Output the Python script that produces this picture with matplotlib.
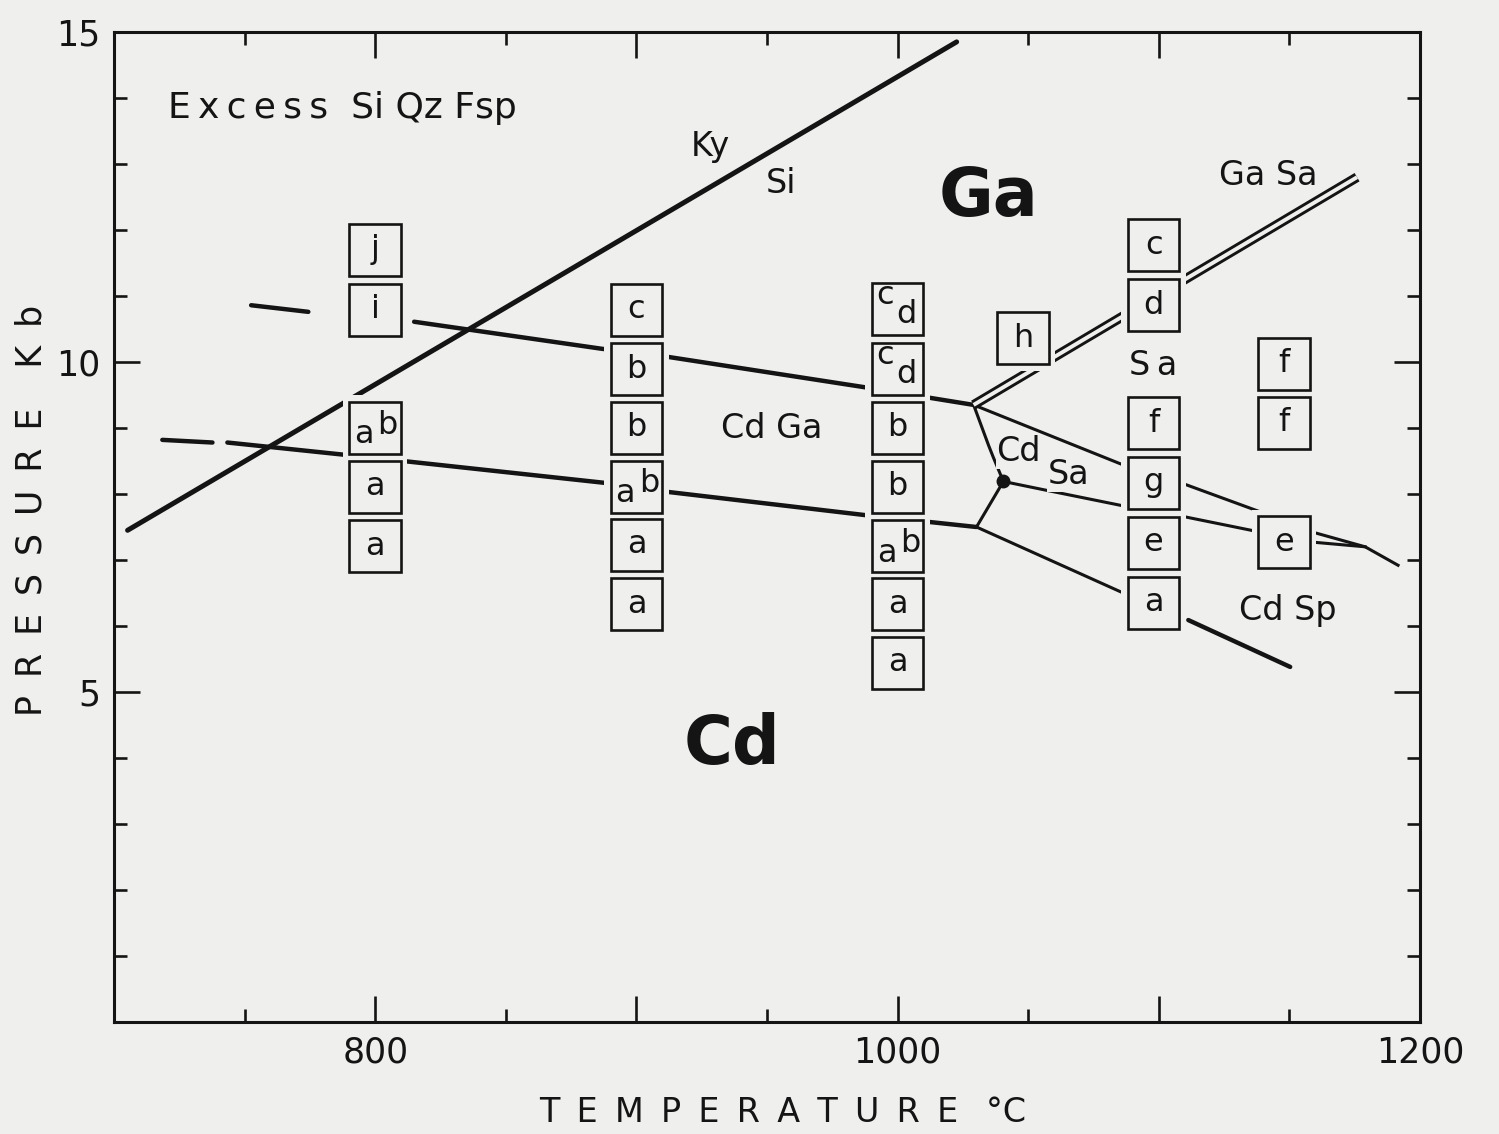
import numpy as np
import matplotlib.pyplot as plt
from matplotlib.patches import Rectangle
import matplotlib.patheffects as pe

nan = np.nan

# phase boundaries (temperature in C, pressure in kb)
ky_si_T = [705.2, 1022.6]
ky_si_P = [7.45, 14.85]

upper_T = [752.5, 774.4, nan, 814.9, 886.8, 911.7, 987.0, 1029.1]
upper_P = [10.86, 10.76, nan, 10.61, 10.20, 10.08, 9.62, 9.35]

lower_T = [718.5, 737.7, nan, 743.4, 786.9, 813.0, 887.6, 912.4, 987.6, 1030.2]
lower_P = [8.82, 8.78, nan, 8.78, 8.60, 8.49, 8.17, 8.03, 7.68, 7.50]

gasa_T = [1029.1, 1175.9]
gasa_P = [9.35, 12.80]

cdsa_top_T = [1029.1, 1034.8, 1036.7, 1040.5, 1030.2]
cdsa_top_P = [9.35, 8.74, 8.55, 8.19, 7.50]

lineA_T = [1029.1, 1086.4, 1110.5, 1138.8, 1159.1, 1179.0, 1191.6]
lineA_P = [9.35, 8.44, 8.14, 7.73, 7.42, 7.20, 6.92]

lineB_T = [1040.5, 1056.5, 1086.4, 1110.5, 1135.4, 1159.1, 1179.0]
lineB_P = [8.19, 8.06, 7.82, 7.65, 7.45, 7.27, 7.20]

lineC_T = [1030.2, 1086.4]
lineC_P = [7.50, 6.50]
lineC2_T = [1111.3, 1150.3]
lineC2_P = [6.09, 5.38]

point_T = [1040.5]
point_P = [8.19]

# experiment boxes
box_T = [800, 800, 800, 800, 800,
         900, 900, 900, 900, 900, 900,
         1000, 1000, 1000, 1000, 1000, 1000, 1000,
         1098, 1098, 1098, 1098, 1098, 1098,
         1148, 1148, 1148,
         1048]
box_P = [11.70, 10.79, 9.00, 8.11, 7.21,
         10.79, 9.89, 9.00, 8.11, 7.23, 6.33,
         10.80, 9.89, 9.00, 8.11, 7.21, 6.33, 5.44,
         11.77, 10.86, 9.07, 8.17, 7.26, 6.35,
         9.97, 9.08, 7.27,
         10.36]
box_lab = ["j", "i", "ab", "a", "a",
           "c", "b", "b", "ab", "a", "a",
           "cd", "cd", "b", "b", "ab", "a", "a",
           "c", "d", "f", "g", "e", "a",
           "f", "f", "e",
           "h"]

BG = "#efefed"
INK = "#141414"
BW, BH = 19.8, 0.79      # box size in data units
MW, MH = 2.4, 0.10       # blank margin round each box

plt.rcParams["font.family"] = ["DejaVu Sans"]

fig = plt.figure(figsize=(14.99, 11.34), dpi=100, facecolor=BG)
ax = fig.add_axes([114 / 1499, 112 / 1134, 1306 / 1499, 990 / 1134])
ax.set_facecolor(BG)
ax.set_xlim(700, 1200)
ax.set_ylim(0, 15)

ax.set_xticks([800, 900, 1000, 1100, 1200])
ax.set_xticklabels(["800", "", "1000", "", "1200"])
ax.set_xticks([750, 850, 950, 1050, 1150], minor=True)
ax.set_yticks([5, 10, 15])
ax.set_yticklabels(["5", "10", "15"])
ax.set_yticks([1, 2, 3, 4, 6, 7, 8, 9, 11, 12, 13, 14], minor=True)
ax.tick_params(which="both", direction="in", top=True, right=True,
               width=1.9, color=INK, labelcolor=INK, labelsize=25, pad=10)
ax.tick_params(which="major", length=19)
ax.tick_params(which="minor", length=9.5)
for s in ax.spines.values():
    s.set_linewidth(2.2)
    s.set_color(INK)

# boundaries
ax.plot(ky_si_T, ky_si_P, color=INK, lw=3.6, solid_capstyle="round", zorder=2)
ax.plot(upper_T, upper_P, color=INK, lw=3.2, solid_capstyle="round", zorder=2)
ax.plot(lower_T, lower_P, color=INK, lw=3.2, solid_capstyle="round", zorder=2)
ax.plot(cdsa_top_T, cdsa_top_P, color=INK, lw=2.2, zorder=2)
ax.plot(lineA_T, lineA_P, color=INK, lw=2.2, zorder=2)
ax.plot(lineB_T, lineB_P, color=INK, lw=2.2, zorder=2)
ax.plot(lineC_T, lineC_P, color=INK, lw=2.2, zorder=2)
ax.plot(lineC2_T, lineC2_P, color=INK, lw=3.2, solid_capstyle="round", zorder=2)
ax.plot(gasa_T, gasa_P, color=BG, lw=2.8, solid_capstyle="butt", zorder=2,
        path_effects=[pe.Stroke(linewidth=7.0, foreground=INK, capstyle="butt"),
                      pe.Normal()])
ax.plot(point_T, point_P, "o", color=INK, ms=9, zorder=2)

# boxes
for t, p, lab in zip(box_T, box_P, box_lab):
    ax.add_patch(Rectangle((t - BW / 2 - MW, p - BH / 2 - MH), BW + 2 * MW, BH + 2 * MH,
                           fc=BG, ec="none", zorder=3))
    ax.add_patch(Rectangle((t - BW / 2, p - BH / 2), BW, BH,
                           fc=BG, ec=INK, lw=1.9, zorder=4))
    kw = dict(ha="center", va="center", color=INK, fontsize=23, zorder=5,
              textcoords="offset points")
    if lab == "ab":
        ax.annotate("a", (t, p), xytext=(-8, -5), **kw)
        ax.annotate("b", (t, p), xytext=(9, 2), **kw)
    elif lab == "cd":
        ax.annotate("c", (t, p), xytext=(-9, 10), **kw)
        ax.annotate("d", (t, p), xytext=(6, -4), **kw)
    else:
        ax.annotate(lab, (t, p), xytext=(0, 0), **kw)

# field labels
txt = dict(ha="center", va="center", color=INK, zorder=5)
ax.text(720.5, 13.85, "E\u2009x\u2009c\u2009e\u2009s\u2009s  Si Qz Fsp", ha="left",
        va="center", color=INK, fontsize=26)
ax.text(928.5, 13.26, "Ky", fontsize=24, **txt)
ax.text(955.3, 12.71, "Si", fontsize=24, **txt)
ax.text(1034.8, 12.50, "Ga", fontsize=48, fontweight="bold", **txt)
ax.text(1141.9, 12.83, "Ga Sa", fontsize=24, **txt)
ax.text(1097.9, 9.95, "S\u2009a", fontsize=24, **txt)
ax.text(951.8, 9.00, "Cd Ga", fontsize=24, **txt)
ax.text(1046.3, 8.64, "Cd", fontsize=24,
        bbox=dict(fc=BG, ec="none", pad=0.5), **txt)
ax.text(1065.4, 8.29, "Sa", fontsize=24,
        bbox=dict(fc=BG, ec="none", pad=0.5), **txt)
ax.text(1149.5, 6.24, "Cd Sp", fontsize=24, **txt)
ax.text(936.5, 4.20, "Cd", fontsize=48, fontweight="bold", **txt)

# axis titles
fig.text(783 / 1499, 1 - 1112 / 1134,
         "T\u2009 E\u2009 M\u2009 P\u2009 E\u2009 R\u2009 A\u2009 T\u2009 U\u2009 R\u2009 E \u2009 \u00b0C",
         ha="center", va="center", color=INK, fontsize=24)
fig.text(32 / 1499, 1 - 510 / 1134,
         "P\u2009 R\u2009 E\u2009 S\u2009 S\u2009 U\u2009 R\u2009 E \u2009  K\u2009 b",
         ha="center", va="center", rotation=90, color=INK, fontsize=25)

fig.savefig("out.png", dpi=100, facecolor=BG)
